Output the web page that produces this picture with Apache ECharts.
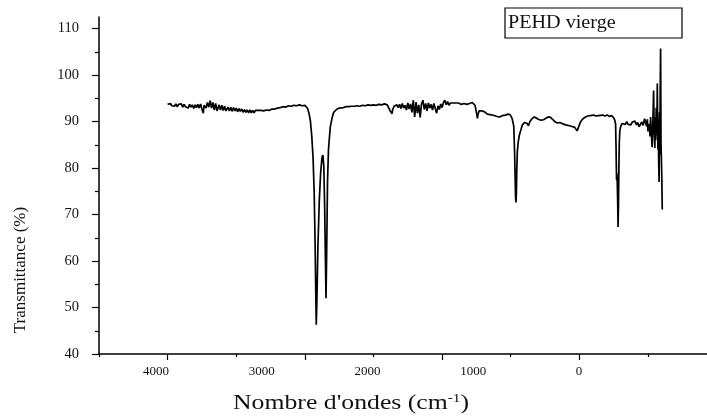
<!DOCTYPE html>
<html>
<head>
<meta charset="utf-8">
<title>PEHD vierge - FTIR</title>
<script src="https://cdn.jsdelivr.net/npm/echarts@6/dist/echarts.min.js"></script>
<style>
  html, body { margin: 0; padding: 0; background: #fff; }
  #chart { width: 707px; height: 417px; }
</style>
</head>
<body>
<div id="chart"></div>
<script>
// FTIR spectrum of virgin HDPE: wavenumber (cm-1) and transmittance (%)
const wavenumbers = [
  4000, 3990, 3980, 3970, 3960, 3950, 3940, 3930, 3920, 3910,
  3900, 3890, 3880, 3870, 3860, 3850, 3840, 3830, 3820, 3810,
  3800, 3790, 3780, 3770, 3760, 3750, 3740, 3735, 3720, 3710,
  3700, 3690, 3680, 3670, 3660, 3650, 3640, 3632, 3625, 3615,
  3605, 3595, 3585, 3575, 3569, 3560, 3550, 3540, 3530, 3520,
  3510, 3500, 3490, 3480, 3470, 3460, 3450, 3440, 3430, 3420,
  3410, 3400, 3390, 3380, 3370, 3360, 3350, 3340, 3330, 3320,
  3300, 3280, 3260, 3240, 3220, 3200, 3180, 3160, 3140, 3120,
  3100, 3080, 3060, 3040, 3020, 3000, 2990, 2980, 2970, 2960,
  2950, 2940, 2932, 2925, 2920, 2917, 2912, 2905, 2895, 2885,
  2875, 2869, 2862, 2856, 2850, 2846, 2842, 2835, 2828, 2815,
  2800, 2790, 2770, 2750, 2720, 2700, 2680, 2660, 2640, 2620,
  2600, 2580, 2560, 2540, 2520, 2500, 2480, 2460, 2440, 2420,
  2400, 2390, 2380, 2365, 2360, 2350, 2340, 2330, 2320, 2310,
  2300, 2290, 2280, 2270, 2260, 2250, 2240, 2230, 2220, 2210,
  2200, 2190, 2180, 2170, 2160, 2150, 2140, 2130, 2120, 2110,
  2100, 2090, 2080, 2070, 2060, 2050, 2040, 2030, 2020, 2010,
  2000, 1990, 1980, 1970, 1960, 1950, 1940, 1930, 1920, 1910,
  1900, 1890, 1880, 1860, 1840, 1820, 1800, 1790, 1780, 1770,
  1760, 1750, 1743, 1738, 1730, 1720, 1710, 1700, 1690, 1680,
  1670, 1660, 1650, 1640, 1620, 1600, 1590, 1580, 1560, 1540,
  1520, 1505, 1495, 1490, 1485, 1478, 1472, 1468, 1465, 1462,
  1459, 1456, 1452, 1446, 1438, 1428, 1415, 1400, 1393, 1380,
  1371, 1360, 1345, 1330, 1315, 1300, 1280, 1261, 1240, 1225,
  1210, 1195, 1180, 1161, 1140, 1120, 1100, 1089, 1070, 1050,
  1035, 1025, 1016, 1008, 1000, 992, 980, 965, 955, 940,
  920, 897, 880, 860, 846, 830, 815, 797, 780, 765,
  758, 750, 742, 736, 733, 731, 729, 727, 724, 721,
  718, 715, 712, 709, 705, 700, 690, 676, 665, 655,
  645, 635, 625, 615, 605, 595, 585, 575, 565, 554,
  545, 535, 525, 517, 510, 505, 500, 495, 490, 485,
  481, 476, 470, 465, 459, 455, 450, 447, 444, 440,
  436, 432, 428, 425, 422, 419, 416, 413, 411, 408,
  405, 402, 399, 396
];
const transmittance = [
  93.7, 93.4, 93.9, 93.4, 93.8, 93.3, 93.8, 93.2, 93.7, 93.3,
  93.8, 93.1, 93.7, 93.2, 93.6, 92.9, 93.7, 93.1, 93.6, 92.8,
  93.6, 93.0, 93.7, 92.9, 93.8, 92.7, 91.8, 93.5, 92.9, 94.1,
  93.1, 94.5, 92.9, 94.1, 92.5, 93.9, 92.3, 91.9, 93.6, 92.5,
  93.5, 92.4, 93.3, 92.3, 91.9, 93.1, 92.3, 93.1, 92.2, 93.0,
  92.3, 92.9, 92.1, 92.8, 92.2, 92.7, 92.0, 92.6, 92.0, 92.5,
  91.9, 92.5, 91.9, 92.4, 91.9, 92.4, 92.0, 92.4, 92.0, 92.4,
  92.3, 92.5, 92.4, 92.7, 92.7, 92.9, 93.0, 93.2, 93.1, 93.4,
  93.3, 93.5, 93.4, 93.6, 93.4, 93.5, 93.3, 92.8, 91.8, 90.2,
  87.0, 82.0, 74.6, 63.0, 52.0, 46.3, 52.0, 63.0, 73.0, 79.0,
  82.3, 82.8, 80.5, 72.0, 60.0, 52.0, 60.0, 77.0, 84.0, 88.8,
  91.0, 92.0, 92.6, 92.9, 93.0, 93.2, 93.2, 93.3, 93.3, 93.4,
  93.3, 93.5, 93.4, 93.6, 93.5, 93.6, 93.5, 93.7, 93.6, 93.8,
  93.6, 93.4, 92.4, 91.7, 92.6, 93.3, 92.9, 93.6, 93.0, 93.7,
  92.8, 93.9, 92.9, 93.5, 92.5, 94.0, 92.7, 93.8, 92.0, 94.6,
  91.0, 94.2, 91.8, 93.6, 90.9, 93.8, 94.6, 92.6, 93.9, 92.3,
  94.0, 92.9, 93.7, 92.5, 93.9, 92.8, 91.8, 93.4, 92.6, 93.8,
  93.0, 94.1, 94.6, 93.6, 94.3, 93.5, 94.0, 93.6, 94.0, 93.7,
  94.0, 93.8, 94.0, 93.7, 93.9, 93.7, 93.9, 93.6, 94.1, 93.8,
  93.5, 92.0, 90.7, 91.6, 92.3, 92.0, 92.3, 91.9, 92.1, 91.8,
  91.6, 91.9, 91.5, 91.7, 91.3, 91.1, 91.2, 91.0, 91.3, 91.4,
  91.6, 91.5, 91.2, 90.7, 91.0, 89.0, 83.5, 78.0, 74.0, 72.6,
  74.5, 79.5, 83.5, 85.5, 87.0, 88.0, 89.3, 89.8, 90.0, 89.6,
  89.1, 90.0, 90.6, 91.0, 90.8, 90.5, 90.3, 90.4, 90.8, 91.0,
  90.9, 90.5, 90.0, 89.7, 89.8, 89.5, 89.3, 89.2, 89.1, 88.9,
  88.8, 88.5, 88.0, 88.3, 89.3, 89.9, 90.4, 90.8, 91.0, 91.2,
  91.3, 91.4, 91.2, 91.3, 91.1, 91.4, 91.2, 91.4, 91.1, 91.3,
  91.1, 90.8, 90.3, 89.5, 85.0, 81.0, 77.5, 79.0, 77.0, 73.0,
  67.3, 72.0, 80.0, 85.5, 88.0, 88.8, 89.6, 89.9, 89.4, 90.0,
  89.4, 89.8, 89.3, 89.9, 89.6, 90.1, 89.3, 89.8, 88.9, 88.8,
  89.9, 89.2, 90.6, 90.3, 89.0, 90.5, 87.9, 88.1, 89.5, 86.8,
  91.0, 88.0, 84.5, 89.0, 96.7, 88.2, 84.3, 91.0, 86.0, 93.0,
  87.0, 98.2, 84.0, 90.5, 81.0, 77.0, 92.0, 83.0, 96.5, 105.7,
  85.0, 81.7, 77.5, 71.1
];

// Axis ticks and labels
const xMajorTicks = [4000, 3000, 2000, 1000];
const xMinorTicks = [4500, 3500, 2500, 1500, 500];
const xTickLabels = [4000, 3000, 2000, 1000, 0];
const yMajorTicks = [40, 50, 60, 70, 80, 90, 100, 110];
const yMinorTicks = [45, 55, 65, 75, 85, 95, 105];

const seriesName = 'PEHD vierge';
const xTitle = "Nombre d'ondes (cm";
const yTitle = 'Transmittance (%)';

const serif = '"Liberation Serif", "Times New Roman", serif';
const ink = '#111';

const chart = echarts.init(document.getElementById('chart'), null, { renderer: 'canvas' });

const spectrum = wavenumbers.map((w, i) => [w, transmittance[i]]);

const plainNumber = (v) => String(Math.round(v));
const axisLine = { show: true, onZero: false, lineStyle: { color: '#000', width: 1.5 } };
const hiddenLine = { show: false, onZero: false };

chart.setOption({
  animation: false,
  backgroundColor: '#fff',
  grid: { left: 99, right: 0, top: 17, bottom: 63, containLabel: false },
  xAxis: [
    {
      type: 'value', inverse: true, min: 70, max: 4500, position: 'bottom',
      axisLine: axisLine,
      axisTick: { show: true, customValues: xMajorTicks, length: 6, lineStyle: { color: '#000', width: 1.2 } },
      axisLabel: { show: false },
      splitLine: { show: false }
    },
    {
      type: 'value', inverse: true, min: 70, max: 4500, position: 'bottom',
      axisLine: hiddenLine,
      axisTick: { show: true, customValues: xMinorTicks, length: 3, lineStyle: { color: '#000', width: 1.2 } },
      axisLabel: { show: false },
      splitLine: { show: false }
    },
    {
      type: 'value', inverse: true, min: -1210, max: 4539, position: 'bottom',
      axisLine: hiddenLine,
      axisTick: { show: false },
      axisLabel: {
        show: true, customValues: xTickLabels, margin: 11,
        formatter: plainNumber,
        fontFamily: serif, fontSize: 13, color: ink
      },
      splitLine: { show: false }
    }
  ],
  yAxis: [
    {
      type: 'value', min: 40, max: 112.5, position: 'left',
      axisLine: axisLine,
      axisTick: { show: true, customValues: yMajorTicks, length: 7, lineStyle: { color: '#000', width: 1.2 } },
      axisLabel: {
        show: true, customValues: yMajorTicks, margin: 20,
        formatter: plainNumber,
        fontFamily: serif, fontSize: 14.5, color: ink
      },
      splitLine: { show: false }
    },
    {
      type: 'value', min: 40, max: 112.5, position: 'left',
      axisLine: hiddenLine,
      axisTick: { show: true, customValues: yMinorTicks, length: 4, lineStyle: { color: '#000', width: 1.2 } },
      axisLabel: { show: false },
      splitLine: { show: false }
    }
  ],
  series: [
    {
      name: seriesName,
      type: 'line',
      xAxisIndex: 0,
      yAxisIndex: 0,
      data: spectrum,
      showSymbol: false,
      smooth: false,
      lineStyle: { color: '#000', width: 1.7 },
      clip: false
    }
  ],
  graphic: [
    {
      type: 'rect',
      shape: { x: 505, y: 8, width: 177, height: 30 },
      style: { fill: '#fff', stroke: '#000', lineWidth: 1.2 }
    },
    {
      type: 'text',
      x: 508, y: 23,
      scaleX: 1.12,
      style: {
        text: seriesName, fill: ink,
        fontFamily: serif, fontSize: 18,
        align: 'left', verticalAlign: 'middle'
      }
    },
    {
      type: 'text',
      x: 21, y: 270,
      rotation: Math.PI / 2,
      style: {
        text: yTitle, fill: ink,
        fontFamily: serif, fontSize: 17,
        align: 'center', verticalAlign: 'middle'
      }
    },
    {
      type: 'text',
      x: 351, y: 403,
      scaleX: 1.17,
      style: {
        text: xTitle + '{sup|-1}{p|)}', fill: ink,
        fontFamily: serif, fontSize: 22,
        align: 'center', verticalAlign: 'middle',
        rich: {
          sup: { fontFamily: serif, fontSize: 13, fill: ink, verticalAlign: 'top', lineHeight: 14 },
          p: { fontFamily: serif, fontSize: 22, fill: ink }
        }
      }
    }
  ]
});
</script>
</body>
</html>
